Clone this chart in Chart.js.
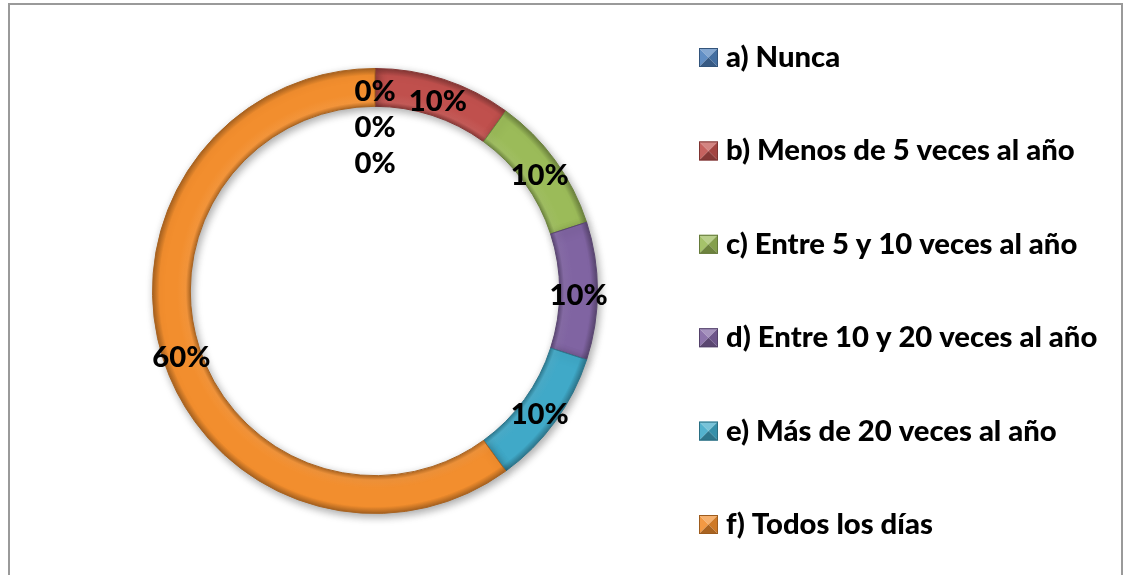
<!DOCTYPE html>
<html><head><meta charset="utf-8">
<script src="https://cdn.jsdelivr.net/npm/chart.js@4.4.0/dist/chart.umd.min.js"></script>
<style>html,body{margin:0;padding:0;background:#fff;overflow:hidden}#wrap{position:relative;width:1126px;height:575px}</style>
</head><body><div id="wrap"><canvas id="c" width="1126" height="575"></canvas></div>
<script>
// Categories (the two trailing blank ones are zero-valued points that only show a "0%" label)
const categories = ['a) Nunca','b) Menos de 5 veces al año','c) Entre 5 y 10 veces al año','d) Entre 10 y 20 veces al año','e) Más de 20 veces al año','f) Todos los días','',''];
const values = [0, 10, 10, 10, 10, 60, 0, 0];
const valueLabels = ['0%','10%','10%','10%','10%','60%','0%','0%'];
const colors = ['#4F81BD','#C0504D','#9BBB59','#8064A2','#40A9C8','#F28E2E','#4F81BD','#C0504D'];

const FONT_FAMILY = 'Lato, "Open Sans", sans-serif';
const FW = 900;

function shade(hex, p) {
  const n = parseInt(hex.slice(1), 16);
  let r = (n >> 16) & 255, g = (n >> 8) & 255, b = n & 255;
  const f = c => Math.round(p < 0 ? c * (1 + p) : c + (255 - c) * p);
  return `rgb(${f(r)},${f(g)},${f(b)})`;
}

// pick a font size so the longest legend entry matches the reference width
const mctx = document.createElement('canvas').getContext('2d');
let FS = 30;
for (let s = 34; s >= 18; s -= 0.25) {
  mctx.font = `${FW} ${s}px ${FONT_FAMILY}`;
  if (mctx.measureText(categories[3]).width <= 373) { FS = s; break; }
}

const bevelBg = (context) => {
  const chart = context.chart;
  const i = context.dataIndex;
  const base = colors[i];
  const meta = chart.getDatasetMeta(0);
  const ctrl = meta.controller;
  if (!chart.chartArea || !ctrl || !ctrl.outerRadius) return base;
  const cx = (chart.chartArea.left + chart.chartArea.right) / 2;
  const cy = (chart.chartArea.top + chart.chartArea.bottom) / 2;
  const ri = ctrl.innerRadius, ro = ctrl.outerRadius;
  const g = chart.ctx.createRadialGradient(cx, cy, ri, cx, cy, ro);
  g.addColorStop(0, shade(base, -0.25));
  g.addColorStop(0.12, shade(base, 0.06));
  g.addColorStop(0.35, base);
  g.addColorStop(0.82, base);
  g.addColorStop(1, shade(base, -0.3));
  return g;
};

const shadowPlugin = {
  id: 'shadow',
  beforeDatasetsDraw(chart) {
    const ctx = chart.ctx;
    ctx.save();
    ctx.shadowColor = 'rgba(0,0,0,0.35)';
    ctx.shadowBlur = 8;
    ctx.shadowOffsetX = 2;
    ctx.shadowOffsetY = 3;
  },
  afterDatasetsDraw(chart) { chart.ctx.restore(); }
};

const decorPlugin = {
  id: 'decor',
  afterDraw(chart) {
    const ctx = chart.ctx;
    ctx.save();
    // outer frame
    ctx.strokeStyle = '#9a9a9a';
    ctx.lineWidth = 2;
    ctx.strokeRect(9, 4, 1113, 700);

    // data labels
    ctx.font = `${FW} ${FS}px ${FONT_FAMILY}`;
    ctx.fillStyle = '#000';
    ctx.textAlign = 'center';
    ctx.textBaseline = 'alphabetic';
    const asc = ctx.measureText('0').actualBoundingBoxAscent;
    const meta = chart.getDatasetMeta(0);
    let zeroCount = 0;
    meta.data.forEach((arc, i) => {
      const p = arc.getProps(['x','y','startAngle','endAngle','innerRadius','outerRadius'], true);
      const mid = (p.startAngle + p.endAngle) / 2;
      const r = (p.innerRadius + p.outerRadius) / 2;
      let x = p.x + Math.cos(mid) * r;
      let y = p.y + Math.sin(mid) * r + 3;
      if (values[i] === 0) { y += zeroCount * 36; zeroCount++; }
      ctx.fillText(valueLabels[i], x, y + asc / 2);
    });

    // legend
    const step = 93.4;
    ctx.textAlign = 'left';
    categories.forEach((lab, i) => {
      if (!lab) return;
      const base = 67 + i * step;
      const mx = 699, my = base - 19, s = 19;
      const c = colors[i];
      const cxm = mx + s / 2, cym = my + s / 2;
      const tri = (pts, col) => { ctx.beginPath(); ctx.moveTo(pts[0][0], pts[0][1]); ctx.lineTo(pts[1][0], pts[1][1]); ctx.lineTo(pts[2][0], pts[2][1]); ctx.closePath(); ctx.fillStyle = col; ctx.fill(); };
      tri([[mx,my],[mx+s,my],[cxm,cym]], shade(c, 0.3));
      tri([[mx,my],[mx,my+s],[cxm,cym]], shade(c, 0.1));
      tri([[mx+s,my],[mx+s,my+s],[cxm,cym]], shade(c, -0.15));
      tri([[mx,my+s],[mx+s,my+s],[cxm,cym]], shade(c, -0.3));
      ctx.strokeStyle = shade(c, -0.35); ctx.lineWidth = 1;
      ctx.strokeRect(mx + 0.5, my + 0.5, s - 1, s - 1);
      ctx.fillStyle = '#000';
      ctx.fillText(lab, 726, base);
    });
    ctx.restore();
  }
};

new Chart(document.getElementById('c'), {
  type: 'doughnut',
  data: {
    labels: categories,
    datasets: [{
      data: values,
      backgroundColor: bevelBg,
      borderColor: colors.map(c => shade(c, -0.3)),
      borderWidth: 1
    }]
  },
  options: {
    responsive: false,
    animation: false,
    cutout: '83%',
    rotation: 0,
    layout: { padding: { top: 68, bottom: 61, left: 152, right: 528 } },
    plugins: { legend: { display: false }, tooltip: { enabled: false } }
  },
  plugins: [shadowPlugin, decorPlugin]
});
</script>
</body></html>
